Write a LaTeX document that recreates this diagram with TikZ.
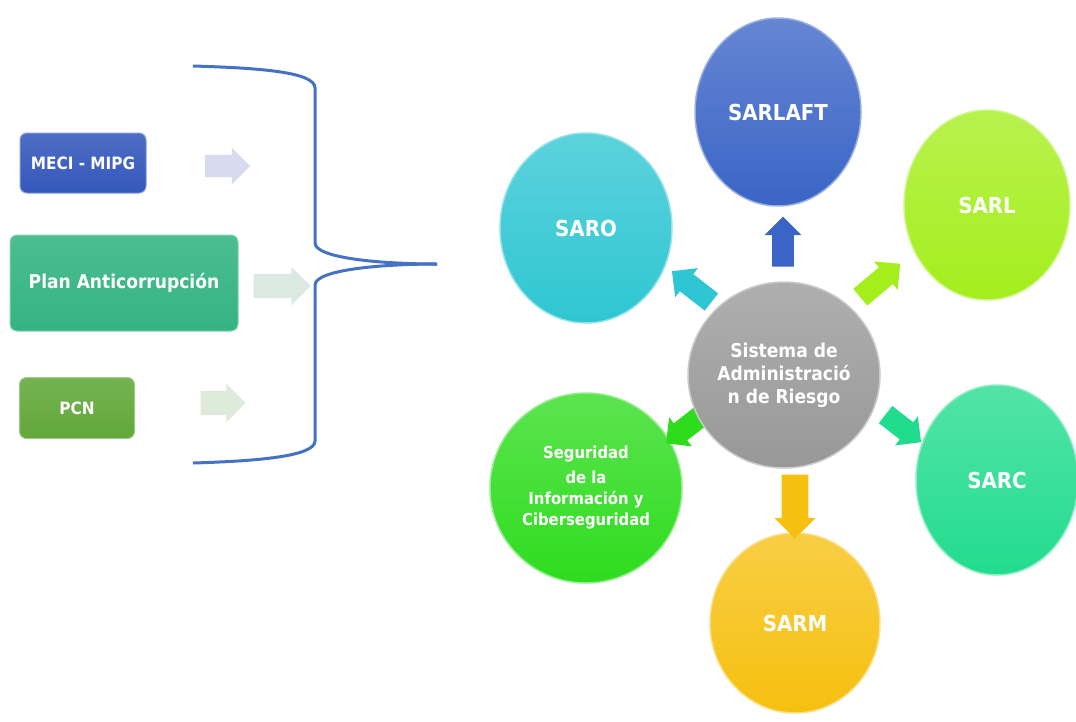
\documentclass[tikz,border=0pt]{standalone}
\usepackage{fontspec}
\setmainfont{DejaVu Sans Condensed}
\usetikzlibrary{shapes.arrows,shapes.geometric}
\definecolor{cBlue}{HTML}{3A64C6}
\definecolor{cLime}{HTML}{A4EE1C}
\definecolor{cCyan}{HTML}{2EC6D2}
\definecolor{cGray}{HTML}{989898}
\definecolor{cTeal}{HTML}{22DC8E}
\definecolor{cYellow}{HTML}{F6C010}
\definecolor{cGreen}{HTML}{2EDC1E}
\definecolor{bMeci}{HTML}{3558BC}
\definecolor{bPlan}{HTML}{34B482}
\definecolor{bPcn}{HTML}{62A83A}
\definecolor{brace}{HTML}{4472C4}
\definecolor{aMeci}{HTML}{D8DAEE}
\definecolor{aPlan}{HTML}{DAE9E2}
\definecolor{aPcn}{HTML}{DEEADA}
\tikzset{
  bubble/.style={ellipse, inner sep=0pt, text=white, font=\bfseries,
    top color=#1!78!white, bottom color=#1, draw=white!50!#1, line width=1.5pt,
    align=center},
  blockarrow/.style={single arrow, inner xsep=0pt, inner ysep=10pt, draw=none,
    minimum width=37pt, fill=#1},
  sidebox/.style={rounded corners=7pt, inner sep=0pt, text=white, font=\bfseries,
    top color=#1!88!white, bottom color=#1, draw=#1!60!white, line width=1pt},
  ghostarrow/.style={single arrow, inner xsep=0pt, draw=none, fill=#1},
}
\begin{document}
\begin{tikzpicture}[x=1pt,y=1pt]
\useasboundingbox (0,0) rectangle (1076,-721);
% left boxes
\node[sidebox=bMeci, minimum width=126pt, minimum height=60pt, font=\bfseries\fontsize{17}{20}\selectfont] (meci) at (83,-163) {MECI - MIPG};
\node[sidebox=bPlan, minimum width=228pt, minimum height=96pt, font=\bfseries\fontsize{19}{22}\selectfont] (plan) at (124,-283) {Plan Anticorrupción};
\node[sidebox=bPcn, minimum width=115pt, minimum height=61pt, font=\bfseries\fontsize{17}{20}\selectfont] (pcn) at (77,-408) {PCN};
% light arrows
\node[ghostarrow=aMeci, minimum height=45pt, inner ysep=11pt, minimum width=32pt] (am) at (222,-166) {};
\node[ghostarrow=aPlan, minimum height=57pt, inner ysep=12pt, minimum width=36pt] (ap) at (276,-286) {};
\node[ghostarrow=aPcn, minimum height=45pt, inner ysep=12pt, minimum width=34pt] (ac) at (217,-403) {};
% brace
\coordinate (btop) at (193,-66);
\coordinate (btip) at (437,-264);
\coordinate (bbot) at (193,-463);
\draw[brace, line width=3pt]
  (btop) .. controls (260,-68) and (315,-72) .. (315,-88)
  -- (315,-243) .. controls (315,-258) and (380,-264) .. (btip);
\draw[brace, line width=3pt]
  (btip) .. controls (380,-264) and (315,-270) .. (315,-285)
  -- (315,-441) .. controls (315,-456) and (260,-461) .. (bbot);
% bubbles
\node[bubble=cBlue, minimum width=166pt, minimum height=188pt, font=\bfseries\fontsize{22}{26}\selectfont] (sarlaft) at (778,-112) {SARLAFT};
\node[bubble=cLime, minimum width=166pt, minimum height=190pt, font=\bfseries\fontsize{22}{26}\selectfont] (sarl) at (987,-205) {SARL};
\node[bubble=cCyan, minimum width=172pt, minimum height=190pt, font=\bfseries\fontsize{22}{26}\selectfont] (saro) at (586,-228) {SARO};
\node[bubble=cTeal, minimum width=162pt, minimum height=190pt, font=\bfseries\fontsize{22}{26}\selectfont] (sarc) at (997,-480) {SARC};
\node[bubble=cYellow, minimum width=170pt, minimum height=180pt, font=\bfseries\fontsize{22}{26}\selectfont] (sarm) at (795,-623) {SARM};
\node[bubble=cGreen, minimum width=192pt, minimum height=190pt, font=\bfseries\fontsize{16.5}{21}\selectfont] (segu) at (586,-488) {Seguridad\\[4pt] de la\\ Información y\\ Ciberseguridad};
% block arrows
\node[blockarrow=cBlue, minimum height=50pt, rotate=90] (aup) at (783,-247) {};
\node[blockarrow=cLime, minimum height=52pt, rotate=40] (aur) at (876,-284) {};
\node[blockarrow=cCyan, minimum height=50pt, rotate=142] (aul) at (696,-290) {};
\node[blockarrow=cGreen, minimum height=45pt, rotate=218] (adl) at (688,-426) {};
\node[blockarrow=cTeal, minimum height=45pt, rotate=-38] (adr) at (899,-425) {};
\node[blockarrow=cYellow, minimum height=64pt, inner ysep=13pt, minimum width=41pt, rotate=-90] (adn) at (795,-500) {};
% centre
\node[bubble=cGray, minimum width=192pt, minimum height=186pt, font=\bfseries\fontsize{19}{23}\selectfont] (centre) at (784,-375) {Sistema de\\ Administració\\ n de Riesgo};
\end{tikzpicture}
\end{document}
